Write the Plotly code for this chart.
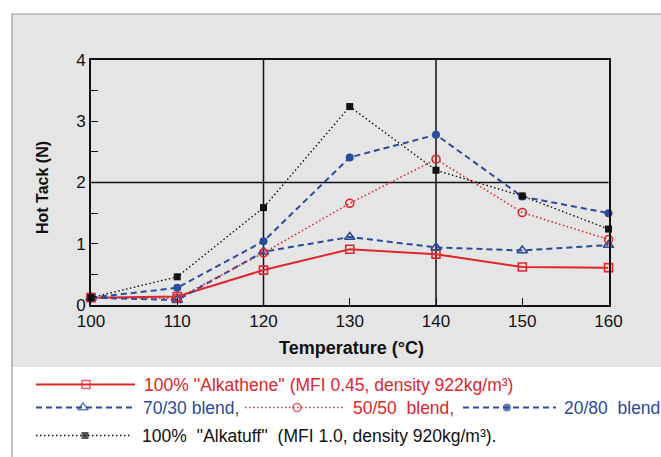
import plotly.graph_objects as go

# ---------------- data ----------------
temps = [100, 110, 120, 130, 140, 150, 160]
alkathene = [0.12, 0.14, 0.57, 0.91, 0.83, 0.62, 0.61]
blend_70_30 = [0.12, 0.08, 0.87, 1.11, 0.94, 0.89, 0.98]
blend_50_50 = [0.12, 0.11, 0.85, 1.66, 2.38, 1.51, 1.07]
blend_20_80 = [0.12, 0.28, 1.04, 2.41, 2.78, 1.77, 1.50]
alkatuff = [0.12, 0.46, 1.59, 3.24, 2.20, 1.78, 1.24]

x_ticks = [100, 110, 120, 130, 140, 150, 160]
y_ticks = [0, 1, 2, 3, 4]

RED = "#e1262d"
BLUE = "#2a4c9c"
BLACK = "#111111"
FONT = "Liberation Sans, Arial, sans-serif"

W, H = 661, 457


def px(x):
    return x / W


def py(y):
    return 1 - y / H


PL, PR, PT, PB = 91, 608.5, 60, 305   # plot area (pixels)
LEG_TOP = 367                           # top of white legend band

series = [
    dict(y=alkathene, color=RED, dash="solid", width=2.0,
         symbol="square-open", size=8, lw=1.6),
    dict(y=blend_70_30, color=BLUE, dash="6px,4px", width=2.0,
         symbol="triangle-up-open", size=9, lw=1.6),
    dict(y=blend_50_50, color=RED, dash="1.5px,2.5px", width=1.6,
         symbol="circle-open", size=8, lw=1.6),
    dict(y=blend_20_80, color=BLUE, dash="6px,4px", width=2.0,
         symbol="circle", size=8, lw=0),
    dict(y=alkatuff, color=BLACK, dash="1.5px,2.5px", width=1.4,
         symbol="square", size=7, lw=0),
]

fig = go.Figure()
for s in series:
    fig.add_trace(go.Scatter(
        x=temps, y=s["y"], mode="lines+markers", xaxis="x", yaxis="y",
        line=dict(color=s["color"], dash=s["dash"], width=s["width"]),
        marker=dict(symbol=s["symbol"], size=s["size"], color=s["color"],
                    line=dict(color=s["color"], width=s["lw"])),
        showlegend=False, cliponaxis=False))

# ------------- hand-made legend (pixel coordinate axes) -------------
legend_glyphs = [
    # (x0, x1, marker x, y, series index)
    (36, 135, 86, 384.5, 0),
    (36, 132, 83, 407.5, 1),
    (245, 343, 297, 407.5, 2),
    (463, 556, 507, 407.5, 3),
    (36, 132, 85, 435.5, 4),
]
for x0, x1, xm, yy, i in legend_glyphs:
    s = series[i]
    fig.add_trace(go.Scatter(
        x=[x0, xm, x1], y=[yy, yy, yy], mode="lines+markers",
        xaxis="x2", yaxis="y2",
        line=dict(color=s["color"], dash=s["dash"], width=s["width"]),
        marker=dict(symbol=s["symbol"], size=[0, s["size"], 0], color=s["color"],
                    line=dict(color=s["color"], width=s["lw"])),
        showlegend=False, cliponaxis=False, hoverinfo="skip"))

legend_texts = [
    (142, 384.5, "100% ''Alkathene'' (MFI 0.45, density 922kg/m³)", RED),
    (141, 407.5, "70/30 blend,", BLUE),
    (351, 407.5, "50/50\u00a0\u00a0blend,", RED),
    (562, 407.5, "20/80\u00a0\u00a0blend", BLUE),
    (140, 435.5, "100%\u00a0\u00a0''Alkatuff''\u00a0\u00a0(MFI 1.0, density 920kg/m³).", BLACK),
]

annotations = []
for tx, ty, txt, col in legend_texts:
    annotations.append(dict(x=tx, y=ty, xref="x2", yref="y2", text=txt,
                            showarrow=False, xanchor="left", yanchor="middle",
                            font=dict(family=FONT, size=17.5, color=col)))

annotations.append(dict(x=px(42), y=py(188), xref="paper", yref="paper",
                        text="<b>Hot Tack (N)</b>", textangle=-90, showarrow=False,
                        xanchor="center", yanchor="middle",
                        font=dict(family=FONT, size=16, color="#111")))
annotations.append(dict(x=px(351), y=py(348), xref="paper", yref="paper",
                        text="<b>Temperature (°C)</b>", showarrow=False,
                        xanchor="center", yanchor="middle",
                        font=dict(family=FONT, size=18, color="#111")))

shapes = [
    # grey upper panel
    dict(type="rect", xref="paper", yref="paper", x0=px(12), x1=1.05,
         y0=py(LEG_TOP), y1=py(14), fillcolor="#e5e5e5",
         line=dict(width=0), layer="below"),
    # outer border
    dict(type="path", xref="paper", yref="paper",
         path=f"M {px(12)} -0.05 L {px(12)} {py(14)} L 1.05 {py(14)}",
         line=dict(color="#9a9a9a", width=1.2), layer="above"),
    # grid lines
    dict(type="line", xref="x", yref="y domain", x0=120, x1=120, y0=0, y1=1,
         line=dict(color=BLACK, width=1.5), layer="below"),
    dict(type="line", xref="x", yref="y domain", x0=140, x1=140, y0=0, y1=1,
         line=dict(color=BLACK, width=1.5), layer="below"),
    dict(type="line", xref="x domain", yref="y", x0=0, x1=1, y0=2, y1=2,
         line=dict(color=BLACK, width=1.5), layer="below"),
]

fig.update_layout(
    width=W, height=H,
    margin=dict(l=0, r=0, t=0, b=0),
    paper_bgcolor="white", plot_bgcolor="white",
    font=dict(family=FONT, color="#111"),
    xaxis=dict(domain=[px(PL), px(PR)], range=[100, 160], tickvals=x_ticks,
               ticktext=[str(v) for v in x_ticks], ticks="inside", ticklen=7,
               tickwidth=1.3, tickcolor=BLACK, showgrid=False, zeroline=False,
               showline=True, linecolor=BLACK, linewidth=2, mirror=True,
               tickfont=dict(family=FONT, size=17, color="#111"),
               automargin=False, anchor="y"),
    yaxis=dict(domain=[py(PB), py(PT)], range=[0, 4], tickvals=y_ticks,
               ticktext=[str(v) for v in y_ticks], ticks="inside", ticklen=7,
               tickwidth=1.3, tickcolor=BLACK, showgrid=False, zeroline=False,
               showline=True, linecolor=BLACK, linewidth=2, mirror=True,
               minor=dict(dtick=0.5, tick0=0, ticks="inside", ticklen=7,
                          tickwidth=1.3, tickcolor=BLACK),
               tickfont=dict(family=FONT, size=17, color="#111"),
               automargin=False, anchor="x"),
    xaxis2=dict(domain=[0, 1], range=[0, W], visible=False, anchor="y2",
                fixedrange=True),
    yaxis2=dict(domain=[0, py(LEG_TOP)], range=[H, LEG_TOP], visible=False,
                anchor="x2", fixedrange=True),
    shapes=shapes, annotations=annotations,
)

fig.write_html(
    "out.html",
    config={"displayModeBar": False},
    post_script="document.body.style.margin='0';"
                "document.body.style.overflow='hidden';",
)
